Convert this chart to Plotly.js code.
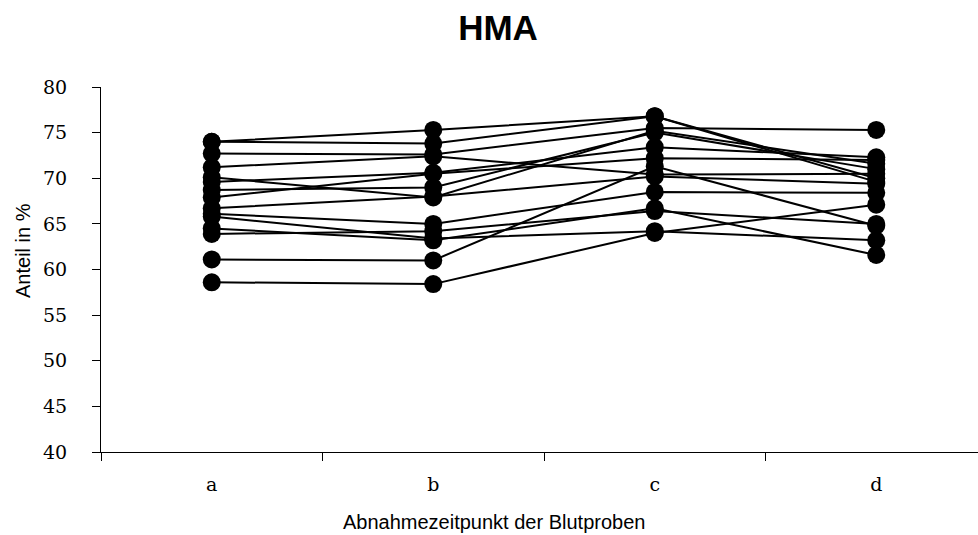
<!DOCTYPE html>
<html>
<head>
<meta charset="utf-8">
<script src="https://cdn.plot.ly/plotly-3.0.1.min.js"></script>
<style>html,body{margin:0;padding:0;background:#fff;}#chart{width:978px;height:535px;}</style>
</head>
<body>
<div id="chart"></div>
<script>
// Sampling times (categories)
const categories = ["a", "b", "c", "d"];
// Share in % per subject at times a, b, c, d
const s1  = [74.0, 75.3, 76.8, 70.0];
const s2  = [74.0, 73.8, 76.8, 69.6];
const s3  = [72.7, 72.6, 75.5, 75.3];
const s4  = [71.2, 72.4, 70.4, 70.5];
const s5  = [70.1, 67.9, 75.2, 71.6];
const s6  = [69.6, 70.6, 73.4, 72.3];
const s7  = [68.7, 69.0, 75.0, 71.0];
const s8  = [67.9, 70.5, 72.2, 72.0];
const s9  = [66.7, 68.0, 70.2, 69.4];
const s10 = [66.1, 65.0, 68.5, 68.4];
const s11 = [64.5, 63.2, 66.7, 61.6];
const s12 = [63.9, 64.2, 66.4, 65.0];
const s13 = [61.1, 61.0, 71.3, 64.8];
const s14 = [58.6, 58.4, 64.0, 67.1];
const s15 = [65.8, 63.4, 64.2, 63.2];
const seriesList = [s1, s2, s3, s4, s5, s6, s7, s8, s9, s10, s11, s12, s13, s14, s15];
const yTicks = [40, 45, 50, 55, 60, 65, 70, 75, 80];

const traces = seriesList.map((vals, i) => ({
  x: categories,
  y: vals,
  type: "scatter",
  mode: "lines+markers",
  name: "Proband " + (i + 1),
  line: {color: "#000000", width: 2},
  marker: {color: "#000000", size: 18},
  showlegend: false,
  cliponaxis: false
}));

const W = 978, H = 535, L = 101, T = 87, B = 83;
const plotW = W - L, plotH = H - T - B;
const px2x = p => (p - L) / plotW;
const px2y = p => (H - B - p) / plotH;

const layout = {
  width: W, height: H,
  margin: {l: L, r: 0, t: T, b: B, pad: 0},
  paper_bgcolor: "#ffffff",
  plot_bgcolor: "#ffffff",
  showlegend: false,
  title: {
    text: "<b>HMA</b>",
    font: {family: "Liberation Sans, Arial, sans-serif", size: 35, color: "#000"},
    x: 498 / W, xanchor: "center", xref: "container",
    y: 1 - 28 / H, yanchor: "middle", yref: "container"
  },
  xaxis: {
    type: "category",
    categoryorder: "array",
    categoryarray: categories,
    range: [-0.5, 3.5 - (L + 886 - W) / 221.5],
    showgrid: false,
    zeroline: false,
    showline: true,
    linecolor: "#000", linewidth: 1,
    ticks: "outside", ticklen: 8, tickcolor: "#000", tickwidth: 1,
    tickson: "boundaries",
    ticklabelstandoff: 15,
    tickfont: {family: "DejaVu Serif, serif", size: 19, color: "#000"}
  },
  yaxis: {
    range: [40, 80],
    tickvals: yTicks,
    showgrid: false,
    zeroline: false,
    showline: true,
    linecolor: "#000", linewidth: 1,
    ticks: "outside", ticklen: 8, tickcolor: "#000", tickwidth: 1,
    ticklabelstandoff: 21,
    tickfont: {family: "DejaVu Serif, serif", size: 19, color: "#000"}
  },
  annotations: [
    {
      text: "Abnahmezeitpunkt der Blutproben",
      xref: "paper", yref: "paper",
      x: px2x(494), y: px2y(522),
      xanchor: "center", yanchor: "middle",
      showarrow: false,
      font: {family: "Liberation Sans, Arial, sans-serif", size: 20, color: "#000"}
    },
    {
      text: "Anteil in %",
      xref: "paper", yref: "paper",
      x: px2x(23), y: px2y(251),
      xanchor: "center", yanchor: "middle",
      textangle: -90,
      showarrow: false,
      font: {family: "Liberation Sans, Arial, sans-serif", size: 20, color: "#000"}
    }
  ]
};

Plotly.newPlot("chart", traces, layout, {displayModeBar: false, staticPlot: true});
</script>
</body>
</html>
